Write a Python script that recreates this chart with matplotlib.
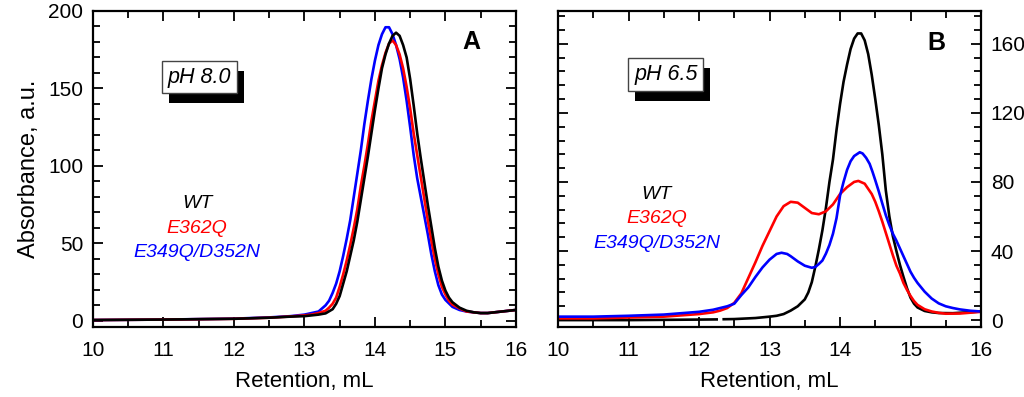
import numpy as np
import matplotlib

matplotlib.use("Agg")
import matplotlib.pyplot as plt
from matplotlib.ticker import MultipleLocator
from matplotlib.patches import Rectangle

plt.rcParams["font.family"] = ["Liberation Sans", "DejaVu Sans"]

# ---- panel A (pH 8.0) ----
xa_wt = [10.0, 11.0, 12.0, 12.5, 12.8, 13.0, 13.1, 13.2, 13.3, 13.4, 13.45, 13.5, 13.55,
         13.6, 13.65, 13.7, 13.75, 13.8, 13.85, 13.9, 13.95, 14.0, 14.05, 14.1, 14.15, 14.2,
         14.25, 14.3, 14.35, 14.4, 14.45, 14.5, 14.55, 14.6, 14.65, 14.7, 14.75, 14.8, 14.85,
         14.9, 14.95, 15.0, 15.05, 15.1, 15.2, 15.3, 15.4, 15.5, 15.6, 15.7, 15.8, 15.9, 16.0]
ya_wt = [0.5, 0.8, 1.3, 2, 2.7, 3, 3.5, 4, 4.8, 7.5, 11, 16, 24,
         32, 42, 52, 64, 78, 92, 106, 121, 136, 150, 163, 172, 179,
         184, 186, 184, 178, 170, 156, 139, 121, 105, 90, 75, 61, 47,
         35, 26, 19.5, 15, 12, 8.5, 6.5, 5.5, 5, 5, 5.5, 6, 6.5, 7]

xa_eq = [10.0, 11.0, 12.0, 12.5, 12.8, 13.0, 13.1, 13.2, 13.3, 13.35, 13.4, 13.45, 13.5,
         13.55, 13.6, 13.65, 13.7, 13.75, 13.8, 13.85, 13.9, 13.95, 14.0, 14.05, 14.1, 14.15,
         14.2, 14.25, 14.3, 14.35, 14.4, 14.45, 14.5, 14.55, 14.6, 14.65, 14.7, 14.75, 14.8,
         14.85, 14.9, 14.95, 15.0, 15.05, 15.1, 15.2, 15.3, 15.4, 15.5, 15.6, 15.7, 15.8, 15.9, 16.0]
ya_eq = [0.5, 0.8, 1.3, 2, 2.8, 3.5, 4, 5, 6.5, 8.5, 11, 15, 22,
         30, 39, 49, 60, 72, 87, 100, 114, 129, 142, 155, 165, 173,
         179, 181, 178, 172, 163, 151, 137, 121, 107, 93, 79, 65, 52,
         40, 30, 22, 17, 13, 10.5, 8, 6, 5.5, 5, 5, 5.5, 6, 6.5, 7]

xa_dm = [10.0, 11.0, 12.0, 12.5, 12.8, 12.9, 13.0, 13.1, 13.2, 13.25, 13.3, 13.35, 13.4,
         13.45, 13.5, 13.55, 13.6, 13.65, 13.7, 13.75, 13.8, 13.85, 13.9, 13.95, 14.0, 14.05,
         14.1, 14.15, 14.2, 14.25, 14.3, 14.35, 14.4, 14.45, 14.5, 14.55, 14.6, 14.65, 14.7,
         14.75, 14.8, 14.85, 14.9, 14.95, 15.0, 15.1, 15.2, 15.3, 15.4, 15.5, 15.6, 15.7, 15.8,
         15.9, 16.0]
ya_dm = [0.5, 0.8, 1.4, 2.2, 3, 3.5, 4, 5, 6, 8, 10, 13, 18,
         24, 32, 42, 53, 65, 80, 95, 110, 127, 142, 156, 168, 178,
         185, 189.5, 189.5, 185, 178, 169, 157, 142, 125, 107, 92, 80, 68,
         56, 43, 32, 23, 17, 13.5, 9, 7, 6, 5.5, 5, 5, 5.5, 6,
         6.5, 7]

# ---- panel B (pH 6.5) ----
xb_wt = [10.0, 11.0, 12.0, 12.25, np.nan, 12.35, 12.5, 12.8, 13.0, 13.1, 13.2, 13.3, 13.4,
         13.5, 13.55, 13.6, 13.65, 13.7, 13.75, 13.8, 13.85, 13.9, 13.95, 14.0, 14.05, 14.1,
         14.15, 14.2, 14.25, 14.3, 14.35, 14.4, 14.45, 14.5, 14.55, 14.6, 14.65, 14.7, 14.75,
         14.8, 14.85, 14.9, 14.95, 15.0, 15.05, 15.1, 15.2, 15.3, 15.4, 15.6, 15.8, 16.0]
yb_wt = [0, 0, 0.3, 0.4, np.nan, 0.5, 0.6, 1.2, 2, 2.5, 3.5, 5.5, 8,
         12, 16, 22, 31, 41, 52, 65, 80, 93, 110, 125, 138, 148,
         157, 163, 166, 166, 162, 154, 142, 128, 113, 96, 75, 60, 48.5,
         40, 32, 25, 18.5, 13, 9.5, 7.3, 5.3, 4.5, 4.1, 4, 4.5, 5]

xb_eq = [10.0, 10.5, 11.0, 11.5, 12.0, 12.2, 12.3, 12.4, 12.5, 12.6, 12.7, 12.8, 12.9,
         13.0, 13.1, 13.2, 13.3, 13.4, 13.5, 13.6, 13.7, 13.8, 13.9, 14.0, 14.1, 14.2,
         14.26, 14.35, 14.4, 14.45, 14.5, 14.55, 14.6, 14.65, 14.7, 14.75, 14.8, 14.85, 14.9,
         14.95, 15.0, 15.05, 15.1, 15.2, 15.3, 15.4, 15.5, 15.7, 15.85, 16.0]
yb_eq = [1, 1, 1.5, 2, 3.5, 4.5, 5.5, 7, 10, 15.5, 24.5, 33.5, 43,
         51.5, 60, 66, 68.5, 68, 65, 62, 61.3, 63, 67, 73, 77, 80,
         80.6, 79, 76, 73, 68.5, 63, 57, 50.5, 44, 37.5, 31.5, 27, 21.5,
         17.5, 14, 11, 8.8, 6.3, 5, 4.2, 3.7, 3.8, 4.3, 4.8]

xb_dm = [10.0, 10.5, 11.0, 11.5, 12.0, 12.2, 12.3, 12.4, 12.5, 12.6, 12.7, 12.8, 12.9,
         13.0, 13.1, 13.17, 13.25, 13.3, 13.4, 13.5, 13.6, 13.65, 13.7, 13.75, 13.8, 13.85,
         13.9, 13.95, 14.0, 14.05, 14.1, 14.15, 14.2, 14.28, 14.32, 14.37, 14.42, 14.46, 14.5,
         14.55, 14.6, 14.65, 14.7, 14.75, 14.8, 14.85, 14.9, 14.95, 15.0, 15.05, 15.1, 15.2,
         15.3, 15.4, 15.5, 15.6, 15.7, 15.85, 16.0]
yb_dm = [2, 2, 2.5, 3.2, 4.8, 6, 7, 8, 9.5, 14.5, 19, 25, 30.5,
         35, 38.3, 39, 38.3, 37, 34, 31.5, 30.3, 30.8, 32.5, 34.5, 38.5, 43.5,
         50, 59, 72, 80, 87, 92, 95, 97.2, 96.5, 94, 90.5, 86, 81,
         74.5, 67.5, 60.7, 55, 50, 46, 41.5, 37, 32.5, 28, 24.5, 21.5, 16.5,
         12.5, 9.7, 8, 7, 6.2, 5.4, 5]

labels = ["WT", "E362Q", "E349Q/D352N"]
colors = ["black", "red", "blue"]


def style_axis(ax, ymax, major, minor, right_labels):
    ax.set_xlim(10, 16)
    ax.set_ylim(-4, ymax)
    ax.xaxis.set_major_locator(MultipleLocator(1))
    ax.xaxis.set_minor_locator(MultipleLocator(0.5))
    ax.yaxis.set_major_locator(MultipleLocator(major))
    ax.yaxis.set_minor_locator(MultipleLocator(minor))
    ax.tick_params(which="both", direction="in", top=True, right=True,
                   left=True, bottom=True, width=1.3, labelsize=15)
    ax.tick_params(which="major", length=7)
    ax.tick_params(which="minor", length=5)
    ax.tick_params(axis="x", pad=10)
    ax.tick_params(axis="y", pad=7)
    if right_labels:
        ax.tick_params(axis="y", labelleft=False, labelright=True)
    for s in ax.spines.values():
        s.set_linewidth(1.6)
    ax.set_xlabel("Retention, mL", fontsize=16, labelpad=8)


def add_box(ax, x, y, text):
    t = ax.text(x, y, text, transform=ax.transAxes, fontsize=15.5, style="italic",
                ha="center", va="center", zorder=5,
                bbox=dict(boxstyle="square,pad=0.27", fc="white", ec="#444444", lw=1))
    return t


def add_shadow(ax, t, dx=7, dy=-10):
    r = ax.figure.canvas.get_renderer()
    bb = t.get_bbox_patch().get_window_extent(r)
    inv = ax.transAxes.inverted()
    (x0, y0), (x1, y1) = inv.transform([(bb.x0 + dx, bb.y0 + dy), (bb.x1 + dx, bb.y1 + dy)])
    ax.add_patch(Rectangle((x0, y0), x1 - x0, y1 - y0, transform=ax.transAxes,
                           fc="black", ec="none", zorder=4, clip_on=False))


def add_legend(ax, x, ys):
    for lab, c, y in zip(labels, colors, ys):
        ax.text(x, y, lab, transform=ax.transAxes, color=c, fontsize=14,
                style="italic", ha="center", va="center")


fig = plt.figure(figsize=(10.24, 3.97), dpi=100)
ax1 = fig.add_axes([0.0908, 0.1763, 0.413, 0.796])
ax2 = fig.add_axes([0.545, 0.1763, 0.413, 0.796])

lw = 1.9
ax1.plot(xa_dm, ya_dm, color="blue", lw=lw)
ax1.plot(xa_eq, ya_eq, color="red", lw=lw)
ax1.plot(xa_wt, ya_wt, color="black", lw=lw)
style_axis(ax1, 200, 50, 10, False)
ax1.set_ylabel("Absorbance, a.u.", fontsize=17, labelpad=6)
box1 = add_box(ax1, 0.251, 0.791, "pH 8.0")
add_legend(ax1, 0.246, [0.392, 0.313, 0.237])
ax1.text(0.894, 0.903, "A", transform=ax1.transAxes, fontsize=18,
         fontweight="bold", ha="center", va="center")

ax2.plot(xb_wt, yb_wt, color="black", lw=lw)
ax2.plot(xb_eq, yb_eq, color="red", lw=lw)
ax2.plot(xb_dm, yb_dm, color="blue", lw=lw)
style_axis(ax2, 179, 40, 8, True)
box2 = add_box(ax2, 0.255, 0.80, "pH 6.5")
add_legend(ax2, 0.233, [0.418, 0.342, 0.263])
ax2.text(0.895, 0.898, "B", transform=ax2.transAxes, fontsize=18,
         fontweight="bold", ha="center", va="center")

fig.canvas.draw()
add_shadow(ax1, box1)
add_shadow(ax2, box2)

fig.savefig("out.png", dpi=100)
